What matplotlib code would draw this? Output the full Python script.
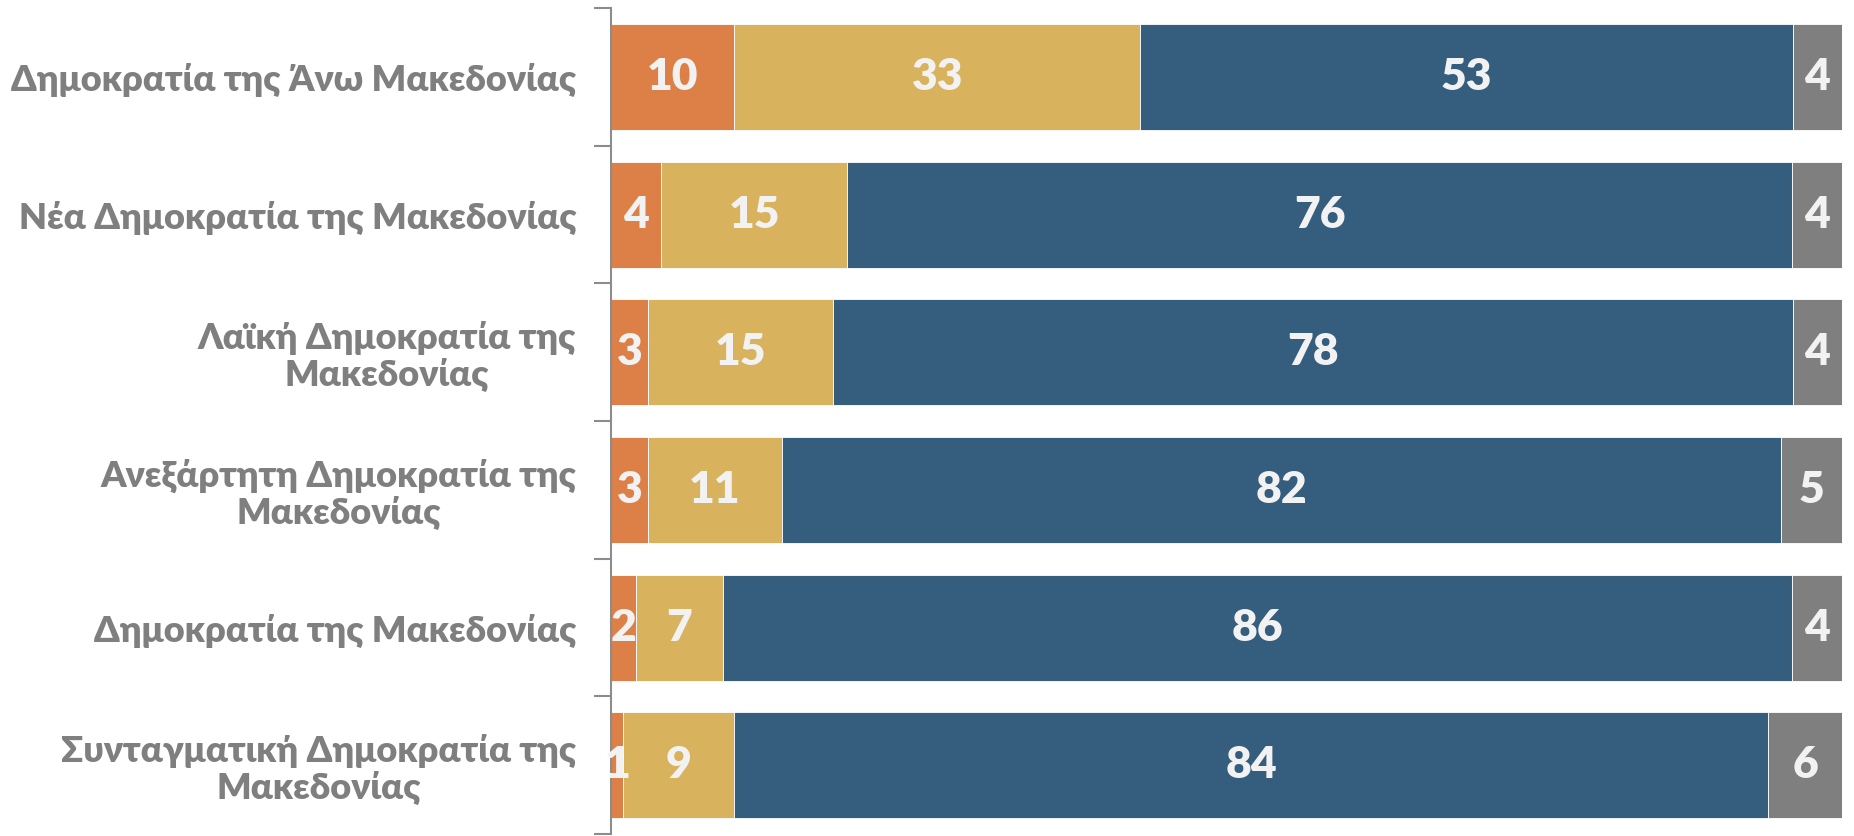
import numpy as np
import matplotlib.pyplot as plt
from matplotlib.ticker import FixedLocator

plt.rcParams['font.family'] = ['Lato', 'Open Sans', 'DejaVu Sans']

# categories, top to bottom
categories = [
    'Δημοκρατία της Άνω Μακεδονίας',
    'Νέα Δημοκρατία της Μακεδονίας',
    'Λαϊκή Δημοκρατία της\nΜακεδονίας',
    'Ανεξάρτητη Δημοκρατία της\nΜακεδονίας',
    'Δημοκρατία της Μακεδονίας',
    'Συνταγματική Δημοκρατία της\nΜακεδονίας',
]
orange_vals = [10, 4, 3, 3, 2, 1]
yellow_vals = [33, 15, 15, 11, 7, 9]
blue_vals = [53, 76, 78, 82, 86, 84]
gray_vals = [4, 4, 4, 5, 4, 6]

colors = ['#DD8047', '#D8B25C', '#355D7E', '#7F7F7F']
series = [orange_vals, yellow_vals, blue_vals, gray_vals]

# 100% stacked
data = np.array(series, dtype=float)
pct = data / data.sum(axis=0) * 100

fig = plt.figure(figsize=(18.54, 8.36), dpi=100)
ax = fig.add_axes([0.3296, 0.0024, 0.6639, 0.988])

y = np.arange(len(categories))
left = np.zeros(len(categories))
for vals, p, c in zip(series, pct, colors):
    ax.barh(y, p, left=left, height=0.77, color=c, edgecolor='white', linewidth=0.6)
    for yi, v, l, w in zip(y, vals, left, p):
        ax.text(l + w / 2, yi, str(v), ha='center', va='center',
                color='#F2F2F2', fontsize=32, fontweight='heavy')
    left += p

ax.set_xlim(0, 100)
ax.set_ylim(len(categories) - 0.5, -0.5)
ax.set_yticks(y)
ax.set_yticklabels(categories, fontsize=26, fontweight='heavy', color='#7F7F7F',
                   multialignment='center', linespacing=1.1)
ax.yaxis.set_minor_locator(FixedLocator(np.arange(-0.5, len(categories), 1)))
ax.tick_params(axis='y', which='major', length=0, pad=25)
ax.tick_params(axis='y', which='minor', length=12, width=1.5, color='#8C8C8C')
ax.set_xticks([])
for s in ['top', 'right', 'bottom']:
    ax.spines[s].set_visible(False)
ax.spines['left'].set_color('#8C8C8C')
ax.spines['left'].set_linewidth(1.5)

fig.savefig('out.png', dpi=100)
